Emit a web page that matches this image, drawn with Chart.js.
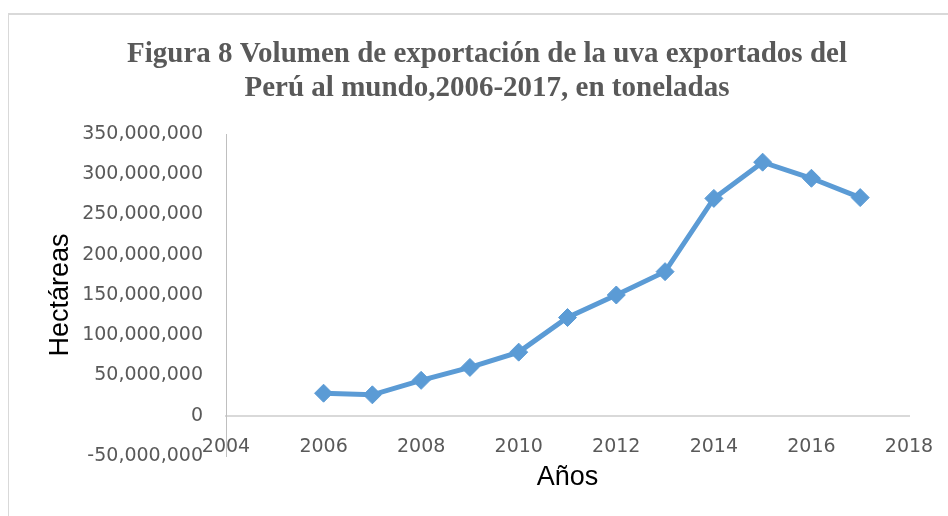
<!DOCTYPE html>
<html>
<head>
<meta charset="utf-8">
<script src="https://cdn.jsdelivr.net/npm/chart.js@4.4.1/dist/chart.umd.min.js"></script>
<style>
  body { margin: 0; background: #fff; overflow: hidden; }
  #wrap { position: relative; width: 948px; height: 516px; }
  #frame { position: absolute; left: 8px; top: 13px; width: 960px; height: 520px;
           border-left: 1px solid #d9d9d9; border-top: 2px solid #d9d9d9; }
  #chart { position: absolute; left: 0; top: 0; }
</style>
</head>
<body>
<div id="wrap">
  <div id="frame"></div>
  <canvas id="chart" width="948" height="516"></canvas>
</div>
<script>
// data
const years = [2006, 2007, 2008, 2009, 2010, 2011, 2012, 2013, 2014, 2015, 2016, 2017];
const volumes = [28000000, 26000000, 44000000, 60000000, 79000000, 122000000,
                 150000000, 179000000, 270000000, 315000000, 295000000, 271000000];
const titleLines = ["Figura 8 Volumen de exportación de la uva exportados del",
                    "Perú al mundo,2006-2017, en toneladas"];
const xTitle = "Años";
const yTitle = "Hectáreas";

const points = years.map((y, i) => ({ x: y, y: volumes[i] }));

new Chart(document.getElementById("chart"), {
  type: "scatter",
  data: {
    datasets: [{
      data: points,
      showLine: true,
      borderColor: "#5b9bd5",
      backgroundColor: "#5b9bd5",
      borderWidth: 5,
      pointStyle: "rectRot",
      pointRadius: 9,
      pointBorderWidth: 1,
      pointBorderColor: "#5b9bd5",
      pointBackgroundColor: "#5b9bd5"
    }]
  },
  options: {
    responsive: false,
    animation: false,
    layout: { padding: { left: 44, right: 18, top: 0, bottom: 60 } },
    plugins: {
      legend: { display: false },
      tooltip: { enabled: false },
      title: {
        display: true,
        text: titleLines,
        color: "#595959",
        font: { family: "Liberation Serif", weight: "bold", size: 29, lineHeight: "34px" },
        padding: { top: 38, bottom: 28 }
      }
    },
    scales: {
      x: {
        type: "linear",
        position: { y: 0 },
        min: 2004,
        max: 2018,
        grid: { display: false },
        border: { display: true, color: "#d9d9d9", width: 2 },
        ticks: {
          stepSize: 2,
          padding: 12,
          color: "#595959",
          font: { family: "DejaVu Sans", size: 19 },
          callback: v => String(v)
        },
        title: {
          display: true,
          text: xTitle,
          color: "#000",
          font: { family: "Liberation Sans", size: 27 },
          padding: 0
        },
        afterFit: s => { s.height = 78; s.paddingRight = 39; }
      },
      y: {
        min: -50000000,
        max: 350000000,
        grid: { display: false, drawTicks: false },
        border: { display: true, color: "#bfbfbf", width: 1 },
        ticks: {
          stepSize: 50000000,
          padding: 23,
          color: "#595959",
          font: { family: "DejaVu Sans", size: 19 },
          callback: v => v.toLocaleString("en-US")
        },
        title: {
          display: true,
          text: yTitle,
          color: "#000",
          font: { family: "Liberation Sans", size: 27 },
          padding: 0
        },
        afterFit: s => { s.width = 182; }
      }
    }
  }
});
</script>
</body>
</html>
